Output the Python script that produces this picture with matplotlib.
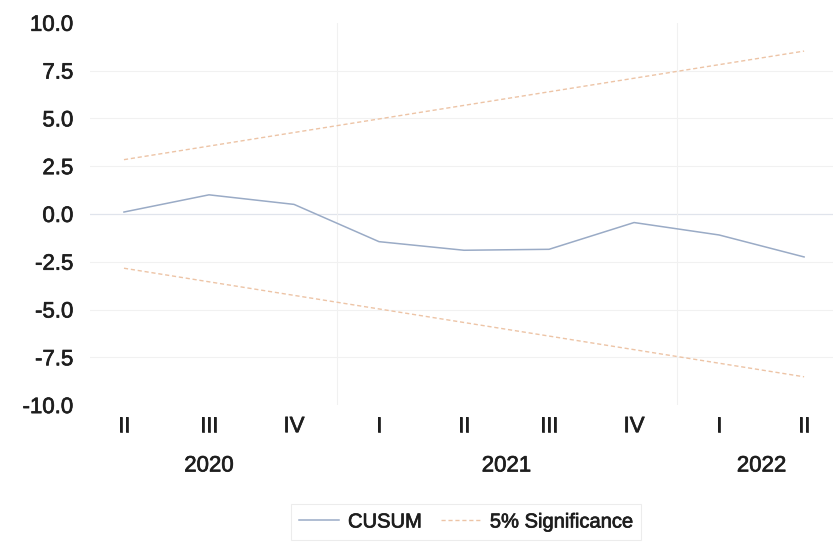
import numpy as np
import matplotlib.pyplot as plt
import matplotlib.patheffects as pe
from matplotlib.transforms import blended_transform_factory

plt.rcParams['font.family'] = ['Liberation Sans', 'DejaVu Sans']

quarters = ['II', 'III', 'IV', 'I', 'II', 'III', 'IV', 'I', 'II']
years = ['2020', '2021', '2022']
year_centers = [1.0, 4.5, 7.5]
year_breaks = [2.5, 6.5]

cusum = [0.1, 1.0, 0.5, -1.45, -1.9, -1.85, -0.45, -1.1, -2.25]
upper = [2.84, 3.55, 4.26, 4.97, 5.68, 6.39, 7.10, 7.81, 8.52]
lower = [-2.84, -3.55, -4.26, -4.97, -5.68, -6.39, -7.10, -7.81, -8.52]
yticks = [-10, -7.5, -5, -2.5, 0, 2.5, 5, 7.5, 10]

x = np.arange(len(quarters))
text_col = '#1e1e1e'
thicken = [pe.withStroke(linewidth=0.5, foreground=text_col)]

fig = plt.figure(figsize=(8.33, 5.43), dpi=100)
ax = fig.add_axes([0.108, 0.254, 0.892, 0.704])

# grid
for yv in [-7.5, -5.0, -2.5, 2.5, 5.0, 7.5]:
    ax.axhline(yv, color='#f1f1f1', lw=0.8, zorder=0)
ax.axhline(0, color='#e0e4ec', lw=0.9, zorder=0)
for xb in year_breaks:
    ax.axvline(xb, color='#f1f1f1', lw=0.8, zorder=0)

ax.plot(x, cusum, color='#9aabc6', lw=1.1, label='CUSUM')
ax.plot(x, upper, color='#edc4a6', lw=1.0, ls=(0, (3, 2)), label='5% Significance')
ax.plot(x, lower, color='#edc4a6', lw=1.0, ls=(0, (3, 2)))

ax.set_xlim(-0.4, 8.34)
ax.set_ylim(-10, 10)
ax.set_yticks(yticks)
ax.set_yticklabels([f'{v:.1f}' for v in yticks])
ax.set_xticks(x)
ax.set_xticklabels(quarters)
ax.tick_params(axis='both', length=0, labelsize=16, colors=text_col)
ax.tick_params(axis='y', pad=12)
ax.tick_params(axis='x', pad=8)
for lbl in ax.get_xticklabels() + ax.get_yticklabels():
    lbl.set_path_effects(thicken)
for s in ax.spines.values():
    s.set_visible(False)

trans = blended_transform_factory(ax.transData, fig.transFigure)
for yr, xc in zip(years, year_centers):
    ax.text(xc, 1 - 466 / 543, yr, transform=trans, ha='center', va='center',
            fontsize=16, color=text_col, path_effects=thicken)

leg = fig.legend(loc='center', bbox_to_anchor=(466 / 833, 1 - 522 / 543), ncol=2,
                 frameon=True, fancybox=False, fontsize=14.5, handlelength=2.0,
                 handletextpad=0.45, columnspacing=0.95, borderpad=0.4)
leg.get_frame().set_edgecolor('#e8e8e8')
leg.get_frame().set_linewidth(0.8)
for t in leg.get_texts():
    t.set_color(text_col)
    t.set_path_effects(thicken)

fig.savefig('out.png', dpi=100)
